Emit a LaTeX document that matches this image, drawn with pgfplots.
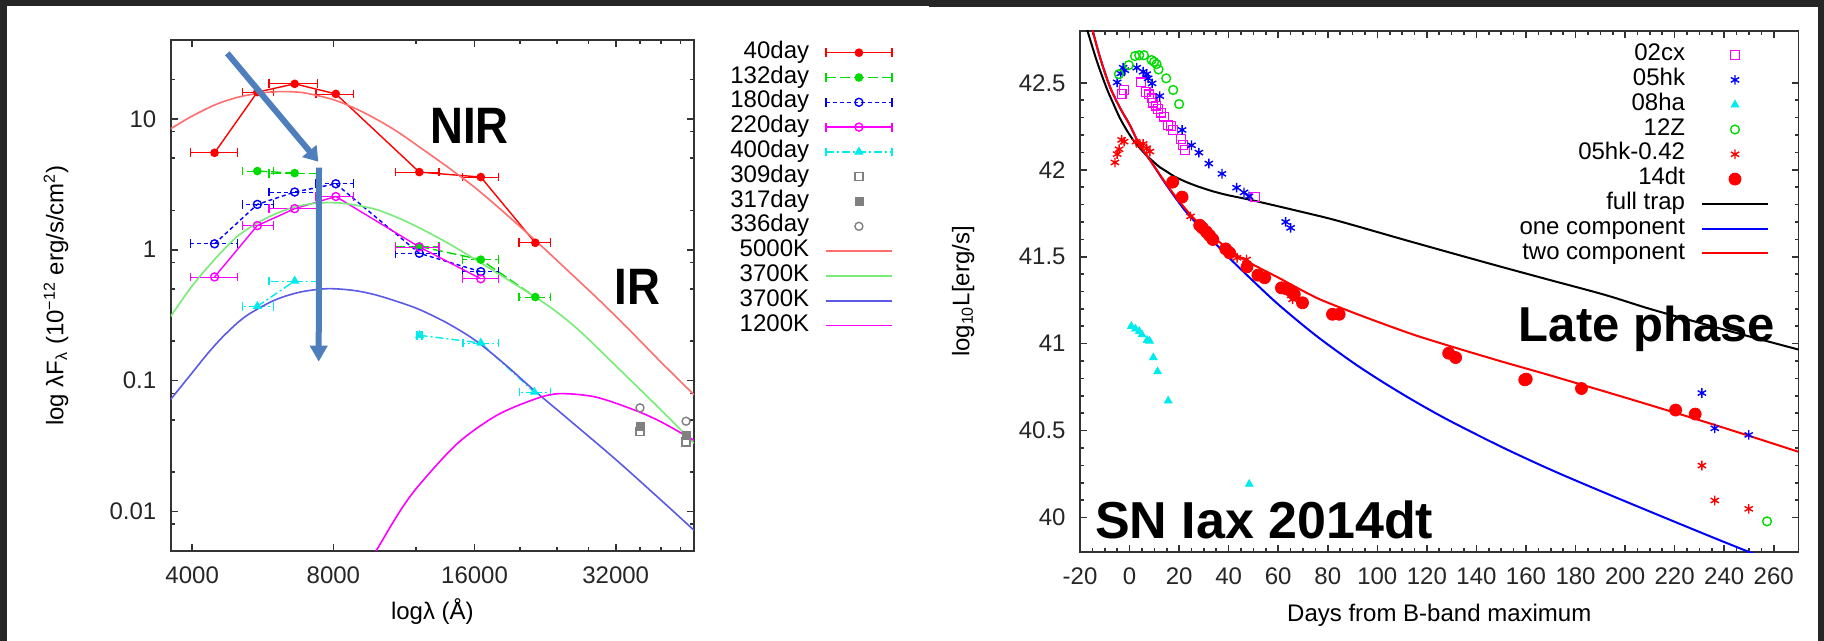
\documentclass[border=0pt]{standalone}
\usepackage{fontspec}
\setmainfont{Liberation Sans}
\usepackage{graphicx}
\usepackage{pgfplots}
\pgfplotsset{compat=1.18}
\usetikzlibrary{arrows.meta}

\definecolor{frame}{HTML}{262626}
\definecolor{arrowblue}{HTML}{4F7EBC}
\definecolor{dgreen}{RGB}{0,220,0}
\definecolor{mag}{RGB}{255,0,255}
\definecolor{cyn}{RGB}{0,235,235}
\definecolor{bbred}{RGB}{255,110,110}
\definecolor{bbgreen}{RGB}{120,235,120}
\definecolor{bbblue}{RGB}{90,90,230}
\definecolor{grey}{RGB}{128,128,128}

\pgfplotsset{
  common/.style={
    scale only axis,
    axis line style={line width=0.9pt, black!80},
    every tick/.style={line width=0.8pt, black!80},
    major tick length=3.5pt, minor tick length=2pt,
    tick align=inside,
    tick label style={font=\fontsize{12}{12}\selectfont, black!85},
    xticklabel style={yshift=-4.4pt},
    yticklabel style={xshift=-3.7pt},
    label style={font=\fontsize{12}{14}\selectfont},
    /pgf/number format/assume math mode=true,
    legend plot pos=right, legend cell align=right,
    legend style={draw=none, fill=none, inner sep=0pt, outer sep=0pt,
      row sep=0pt, column sep=8pt, font=\fontsize{12}{12}\selectfont,
      nodes={inner sep=0pt, text height=9pt, text depth=3.4pt}},
    legend image code/.code={\draw[mark repeat=2,mark phase=2]
      plot coordinates {(0pt,0pt) (16.5pt,0pt) (33pt,0pt)};},
  },
  xerr/.style={
    /pgfplots/error bars/x dir=both,
    /pgfplots/error bars/x explicit,
    /pgfplots/error bars/error mark=|,
    /pgfplots/error bars/error mark options={solid, mark size=2.2pt, line width=0.7pt}},
  errleg/.style={legend image code/.code={
    \draw[mark repeat=2,mark phase=2] plot coordinates {(0pt,0pt) (16.5pt,0pt) (33pt,0pt)};
    \draw[solid] (0pt,-2.2pt) -- (0pt,2.2pt) (33pt,-2.2pt) -- (33pt,2.2pt);}},
}

\begin{document}
\begin{tikzpicture}
\useasboundingbox (0pt,0pt) rectangle (912pt,320.5pt);
\fill[white] (0pt,0pt) rectangle (912pt,320.5pt);
\fill[frame] (0pt,317.5pt) rectangle (464.5pt,320.5pt);
\fill[frame] (464.5pt,317pt) rectangle (912pt,320.5pt);
\fill[frame] (0pt,0pt) rectangle (3.5pt,320.5pt);
\fill[frame] (909pt,0pt) rectangle (912pt,320.5pt);

% ---------------- left panel ----------------
\begin{axis}[common,
  at={(85.35pt,45pt)}, anchor=south west,
  width=261.65pt, height=255.5pt,
  xmode=log, ymode=log,
  xmin=3600, xmax=47000, ymin=0.005, ymax=40,
  xtick={4000,8000,16000,32000}, xticklabels={4000,8000,16000,32000},
  minor xtick={12000,20000,24000,28000,36000,40000,44000},
  ytick={0.01,0.1,1,10}, yticklabels={0.01,0.1,1,10},
  minor ytick={0.008,0.02,0.05,0.08,0.2,0.5,0.8,2,5,8,20},
  xlabel={logλ (Å)},
  ylabel={log λF\textsubscript{λ} (10\textsuperscript{−12} erg/s/cm\textsuperscript{2})},
  xlabel style={at={(axis description cs:0.5,-0.135)}, anchor=base},
  ylabel style={at={(axis description cs:-0.2192,0.5)}, anchor=center},
  legend style={at={(axis description cs:1.3797,0.9994)}, anchor=north east},
]
% 40day
\addplot[color=red, line width=0.7pt, mark=*, mark size=1.8pt, mark options={solid}, xerr, errleg]
  table[x=x, y=y, x error minus=em, x error plus=ep] {
x y em ep
4464 5.50 496 526
5508 16.0 392 448
6617 18.5 786 785
8097 15.5 757 729
12200 3.92 1336 1238
16500 3.59 1418 1490
21560 1.13 1635 1680
};
\addlegendentry{40day}
% 132day
\addplot[color=dgreen, line width=0.7pt, dash pattern=on 5pt off 2pt, mark=*, mark size=1.8pt, mark options={solid}, xerr, errleg]
  table[x=x, y=y, x error minus=em, x error plus=ep] {
x y em ep
5508 3.99 392 448
6617 3.85 786 785
};
\addlegendentry{132day}
\addplot[forget plot, color=dgreen, line width=0.7pt, dash pattern=on 5pt off 2pt, mark=*, mark size=1.8pt, mark options={solid}, xerr]
  table[x=x, y=y, x error minus=em, x error plus=ep] {
x y em ep
12200 1.06 1336 1238
16500 0.84 1418 1490
21560 0.435 1635 1680
};
% 180day
\addplot[color=blue, line width=0.7pt, dash pattern=on 2pt off 1.5pt, mark=o, mark size=2pt, mark options={solid}, xerr, errleg]
  table[x=x, y=y, x error minus=em, x error plus=ep] {
x y em ep
4464 1.11 496 526
5508 2.22 392 448
6617 2.76 786 785
8097 3.19 757 729
12200 0.94 1336 1238
16500 0.68 1418 1490
};
\addlegendentry{180day}
% 220day
\addplot[color=mag, line width=0.7pt, mark=o, mark size=2pt, mark options={solid}, xerr, errleg]
  table[x=x, y=y, x error minus=em, x error plus=ep] {
x y em ep
4464 0.62 496 526
5508 1.53 392 448
6617 2.06 786 785
8097 2.55 757 729
12200 1.05 1336 1238
16500 0.60 1418 1490
};
\addlegendentry{220day}
% 400day
\addplot[color=cyn, line width=0.7pt, dash pattern=on 4pt off 1.5pt on 1pt off 1.5pt, mark=triangle*, mark size=2pt, mark options={solid}, xerr, errleg]
  table[x=x, y=y, x error minus=em, x error plus=ep] {
x y em ep
5508 0.37 392 448
6617 0.577 786 785
};
\addlegendentry{400day}
\addplot[forget plot, color=cyn, line width=0.7pt, dash pattern=on 4pt off 1.5pt on 1pt off 1.5pt, mark=triangle*, mark size=2pt, mark options={solid}, xerr]
  table[x=x, y=y, x error minus=em, x error plus=ep] {
x y em ep
12216 0.222 150 150
16500 0.194 1372 1520
21460 0.0819 1490 1740
};
% gray points
\addplot[only marks, color=grey, mark=square, mark size=2pt, line width=0.7pt] coordinates {(36050,0.041) (45200,0.034)};
\addlegendentry{309day}
\addplot[only marks, color=grey, mark=square*, mark size=2pt] coordinates {(36050,0.045) (45200,0.038)};
\addlegendentry{317day}
\addplot[only marks, color=grey, mark=o, mark size=2pt, line width=0.7pt] coordinates {(36050,0.062) (45200,0.049)};
\addlegendentry{336day}
% blackbody curves
\addplot[color=bbred, line width=0.8pt, smooth] coordinates {
(3600,8.4) (4000,10.5) (4500,12.9) (5000,14.6) (5500,15.6) (6000,16.1) (6500,16.1)
(7000,15.7) (8000,14.0) (9000,11.8) (10000,9.7) (11000,7.9) (12200,6.1) (14000,4.3)
(16000,3.0) (18000,2.1) (21560,1.18) (25000,0.72) (29770,0.40) (35000,0.225)
(40000,0.138) (47000,0.078)};
\addlegendentry{5000K}
\addplot[color=bbgreen, line width=0.8pt, smooth] coordinates {
(3600,0.31) (4000,0.53) (4500,0.87) (5000,1.27) (5508,1.60) (6000,1.87) (6617,2.12)
(7200,2.25) (7800,2.29) (8500,2.25) (9778,2.05) (11000,1.75) (12200,1.47) (14000,1.13)
(16000,0.85) (18500,0.615) (21560,0.435) (24000,0.333) (26980,0.235) (32000,0.13)
(40380,0.0576) (47000,0.0333)};
\addlegendentry{3700K}
\addplot[color=bbblue, line width=0.8pt, smooth] coordinates {
(3600,0.072) (4000,0.115) (4340,0.165) (4700,0.225) (5200,0.31) (5977,0.41) (6800,0.475)
(7770,0.504) (8800,0.49) (9778,0.455) (11000,0.40) (12200,0.35) (14000,0.275)
(16000,0.205) (18500,0.135) (21460,0.084) (25000,0.053) (32000,0.025) (40000,0.0122)
(47000,0.0072)};
\addlegendentry{3700K}
\addplot[color=mag, line width=0.8pt, smooth] coordinates {
(9300,0.0036) (9864,0.005) (11000,0.0096) (12090,0.0154) (14690,0.033) (17840,0.0543)
(21670,0.073) (24350,0.0796) (29000,0.075) (35230,0.0593) (40000,0.0484) (47000,0.035)};
\addlegendentry{1200K}
\end{axis}

% ---------------- right panel ----------------
\begin{axis}[common,
  at={(540pt,44.35pt)}, anchor=south west,
  width=359.25pt, height=260.8pt,
  xmin=-20, xmax=270, ymin=39.8, ymax=42.8,
  xtick={-20,0,...,260},
  xticklabels={-20,0,20,40,60,80,100,120,140,160,180,200,220,240,260},
  minor x tick num=3,
  ytick={40,40.5,41,41.5,42,42.5}, yticklabels={40,40.5,41,41.5,42,42.5},
  minor y tick num=4,
  xlabel={Days from B-band maximum},
  ylabel={log\textsubscript{10}L[erg/s]},
  xlabel style={at={(axis description cs:0.5,-0.1332)}, anchor=base},
  ylabel style={at={(axis description cs:-0.1628,0.5)}, anchor=center},
  legend style={at={(axis description cs:0.95894,0.977)}, anchor=north east},
]
\addplot[only marks, color=mag, mark=square, mark size=2.2pt, line width=0.6pt] coordinates {
(-3.2,42.436) (-2.2,42.459) (4.5,42.503) (6.5,42.449) (7.9,42.434) (8.9,42.411) (9.5,42.386)
(10.6,42.369) (11.5,42.348) (12.6,42.329) (13.8,42.306) (15.6,42.258) (16.7,42.252)
(17.6,42.229) (20.7,42.178) (21.6,42.143) (22.4,42.115) (50.8,41.843)};
\addlegendentry{02cx}
\addplot[only marks, color=blue, mark=asterisk, mark size=2.4pt, line width=0.7pt] coordinates {
(-5.0,42.503) (-3.6,42.554) (-2.6,42.587) (-1.9,42.573) (2.9,42.587) (5.5,42.564)
(6.9,42.550) (7.5,42.526) (9.1,42.497) (12.2,42.424) (21.2,42.229) (25.0,42.141)
(28.0,42.099) (32.0,42.036) (37.3,41.977) (43.2,41.897) (46.2,41.870) (48.2,41.847)
(63.0,41.700) (65.0,41.666) (231.0,40.716) (236.2,40.513) (249.9,40.475)};
\addlegendentry{05hk}
\addplot[only marks, color=cyn, mark=triangle*, mark size=2.2pt] coordinates {
(0.7,41.10) (2.4,41.085) (3.9,41.071) (5.0,41.052) (7.1,41.02) (8.1,41.015) (9.6,40.92)
(11.3,40.839) (15.6,40.671) (48.3,40.192)};
\addlegendentry{08ha}
\addplot[only marks, color=dgreen, mark=o, mark size=2.2pt, line width=0.7pt] coordinates {
(-4.3,42.550) (-0.3,42.602) (2.2,42.654) (3.9,42.659) (5.8,42.659) (8.9,42.631)
(9.9,42.621) (10.9,42.608) (11.7,42.577) (14.8,42.526) (17.6,42.459) (20.0,42.378)
(257.3,39.978)};
\addlegendentry{12Z}
\addplot[only marks, color=red, mark=asterisk, mark size=2.4pt, line width=0.7pt] coordinates {
(-5.9,42.042) (-5.0,42.090) (-4.2,42.118) (-3.2,42.172) (-2.2,42.162) (2.6,42.162)
(4.2,42.143) (5.5,42.149) (6.9,42.124) (8.2,42.105) (24.6,41.732) (29.0,41.666)
(31.6,41.637) (43.4,41.494) (47.2,41.484) (65.2,41.278) (65.8,41.255)
(231.0,40.299) (236.2,40.098) (249.9,40.050)};
\addlegendentry{05hk-0.42}
\addplot[only marks, color=red, mark=*, mark size=3pt] coordinates {
(17.4,41.929) (21.2,41.843) (28.3,41.681) (29.4,41.666) (31.0,41.643) (32.3,41.622)
(33.6,41.599) (38.8,41.545) (40.4,41.522) (47.4,41.442) (51.8,41.394) (54.5,41.379)
(61.3,41.321) (63.2,41.316) (65.2,41.302) (66.5,41.283) (69.8,41.235) (81.9,41.169)
(84.6,41.169) (128.8,40.945) (131.6,40.92) (159.5,40.792) (160.1,40.796)
(182.4,40.742) (220.4,40.618) (228.3,40.595)};
\addlegendentry{14dt}
\addplot[color=black, line width=1pt, smooth] coordinates {
(-18,42.85) (-17,42.8) (-14,42.66) (-12,42.575) (-9,42.46) (-6.6,42.382) (-4,42.30)
(-1.2,42.229) (1.5,42.17) (4.2,42.124) (7,42.08) (9.5,42.048) (12,42.017) (15,41.99)
(18,41.962) (23,41.929) (28,41.902) (33.7,41.876) (40,41.853) (48.5,41.828)
(60,41.79) (68.6,41.761) (80,41.722) (88.7,41.688) (100,41.642) (110,41.601)
(120,41.561) (130,41.521) (150,41.442) (169.4,41.367) (192,41.28) (210,41.20)
(230,41.12) (250,41.042) (270,40.966)};
\addlegendentry{full trap}
\addplot[color=blue, line width=1pt, smooth] coordinates {
(-16,42.86) (-14.9,42.8) (-12,42.65) (-8,42.48) (-4,42.36) (0,42.26) (4,42.145)
(9,42.04) (15,41.91) (22.7,41.76) (30.7,41.637) (38.7,41.515) (48.5,41.379)
(60,41.226) (75,41.049) (90,40.893) (102,40.781) (115,40.669) (129,40.558)
(150,40.407) (170,40.275) (190,40.153) (215,40.005) (235,39.888) (249.3,39.806)
(256,39.77)};
\addlegendentry{one component}
\addplot[color=red, line width=1pt, smooth] coordinates {
(-16,42.86) (-14.9,42.8) (-12,42.65) (-8,42.48) (-4,42.36) (0,42.26) (4,42.145)
(9,42.04) (15,41.915) (20,41.82) (25,41.735) (30,41.665) (40,41.54) (48.5,41.465)
(60,41.38) (75.4,41.264) (90,41.18) (102.2,41.115) (115,41.05) (129.1,40.987)
(150,40.898) (169.4,40.819) (200,40.69) (230,40.56) (250,40.47) (270,40.378)};
\addlegendentry{two component}
\end{axis}

% annotations
\node[anchor=base west, inner sep=0pt, font=\fontsize{25.6}{30}\selectfont\bfseries] at (215pt,248.85pt) {\scalebox{0.89}[1]{NIR}};
\node[anchor=base west, inner sep=0pt, font=\fontsize{25.6}{30}\selectfont\bfseries] at (307pt,168pt) {\scalebox{0.89}[1]{IR}};
\node[anchor=base west, inner sep=0pt, font=\fontsize{24.5}{30}\selectfont\bfseries] at (759.25pt,149.65pt) {Late phase};
\node[anchor=base west, inner sep=0pt, font=\fontsize{26}{30}\selectfont\bfseries] at (547.3pt,51pt) {SN Iax 2014dt};
\draw[arrowblue, line width=3pt, -{Triangle[length=7pt,width=9pt]}] (113.65pt,293.85pt) -- (159.15pt,239.65pt);
\draw[arrowblue, line width=3pt, -{Triangle[length=8pt,width=8.5pt]}] (159.5pt,236.65pt) -- (159.35pt,139.65pt);
\end{tikzpicture}
\end{document}
